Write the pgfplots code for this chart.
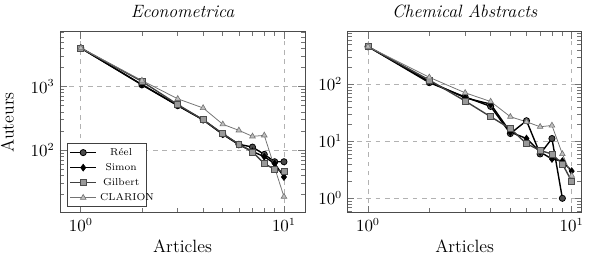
\documentclass[border=0pt]{standalone}
\usepackage{pgfplots}
\pgfplotsset{compat=1.18}
\tikzset{
  reel/.style={black, line width=0.9pt, mark=*, mark size=2pt, mark options={fill=black!70, draw=black, line width=0.5pt, solid}},
  simon/.style={black, line width=0.9pt, mark=diamond*, mark size=2.2pt, mark options={fill=black, draw=black, line width=0.4pt, solid}},
  gilbert/.style={black!75, line width=0.9pt, mark=square*, mark size=1.9pt, mark options={fill=black!40, draw=black!70, line width=0.5pt, solid}},
  clarion/.style={black!55, line width=0.5pt, mark=triangle*, mark size=2.1pt, mark options={fill=black!25, draw=black!55, line width=0.4pt, solid}},
}
\begin{document}
\begin{tikzpicture}
\path[use as bounding box] (0pt,0pt) rectangle (385.8pt,167.7pt);
\begin{axis}[
  xmode=log, ymode=log, scale only axis,
  height=116.6pt, width=158.1pt,
  at={(38.7pt,30.5pt)}, anchor=south west,
  axis line style={black!70, line width=0.6pt},
  grid=major, major grid style={dashed, black!30, line width=0.4pt},
  tick style={black!55, line width=0.4pt},
  tick label style={font=\fontsize{10.5}{12}\selectfont},
  xtick={1,10},
  xmin=0.79, xmax=12.7, ymin=10.5, ymax=7160,
  title={Econometrica},
  title style={font=\fontsize{11.5}{13}\selectfont\itshape, at={(0.5,1)}, anchor=base, yshift=3.3pt},
  xlabel=Articles,
  xlabel style={font=\fontsize{11.5}{13}\selectfont, at={(0.5,0)}, anchor=base, yshift=-26pt},
  ylabel=Auteurs,
  ylabel style={font=\fontsize{11.5}{13}\selectfont},
  ylabel shift=4pt,
  legend style={at={(0,0)}, anchor=south west, xshift=4.7pt, yshift=3.5pt,
    font=\fontsize{6.5}{7}\selectfont, draw=black!75, line width=0.6pt, inner sep=1pt,
    nodes={inner sep=2pt, text height=4.7pt, text depth=1pt, text width=27pt, align=center}},
]
\addplot[reel] coordinates {(1,4000) (2,1060) (3,500) (4,300) (5,178) (6,124) (7,112) (8,86) (9,66) (10,66)};
\addlegendentry{Réel}
\addplot[simon] coordinates {(1,4000) (2,1070) (3,505) (4,300) (5,178) (6,122) (7,96) (8,79) (9,62) (10,38)};
\addlegendentry{Simon}
\addplot[gilbert] coordinates {(1,4000) (2,1200) (3,520) (4,300) (5,182) (6,124) (7,94) (8,62) (9,50) (10,46)};
\addlegendentry{Gilbert}
\addplot[clarion] coordinates {(1,4000) (2,1240) (3,640) (4,460) (5,255) (6,205) (7,165) (8,171) (10,18.7)};
\addlegendentry{CLARION}
\end{axis}
\begin{axis}[
  xmode=log, ymode=log, scale only axis,
  height=116.6pt, width=151pt,
  at={(224.3pt,30.5pt)}, anchor=south west,
  axis line style={black!70, line width=0.6pt},
  grid=major, major grid style={dashed, black!30, line width=0.4pt},
  tick style={black!55, line width=0.4pt},
  tick label style={font=\fontsize{10.5}{12}\selectfont},
  xtick={1,10},
  xmin=0.795, xmax=11.2, ymin=0.56, ymax=832,
  title={Chemical Abstracts},
  title style={font=\fontsize{11.5}{13}\selectfont\itshape, at={(0.5,1)}, anchor=base, yshift=3.3pt},
  xlabel=Articles,
  xlabel style={font=\fontsize{11.5}{13}\selectfont, at={(0.5,0)}, anchor=base, yshift=-26pt},
]
\addplot[reel] coordinates {(1,460) (2,107) (3,60) (4,41) (5,13.7) (6,23) (7,6.0) (8,11.2) (9,1.0)};
\addplot[simon] coordinates {(1,460) (2,112) (3,58) (4,45) (5,14.5) (6,11.2) (7,6.5) (8,4.9) (9,4.5) (10,3.0)};
\addplot[gilbert] coordinates {(1,460) (2,119) (3,51) (4,27) (5,16.7) (6,9.1) (7,6.9) (8,6.0) (9,4.0) (10,2.0)};
\addplot[clarion] coordinates {(1,460) (2,133) (3,71) (4,50) (5,27) (6,22) (7,18) (8,19) (9,6.0) (10,2.5)};
\end{axis}
\end{tikzpicture}
\end{document}
